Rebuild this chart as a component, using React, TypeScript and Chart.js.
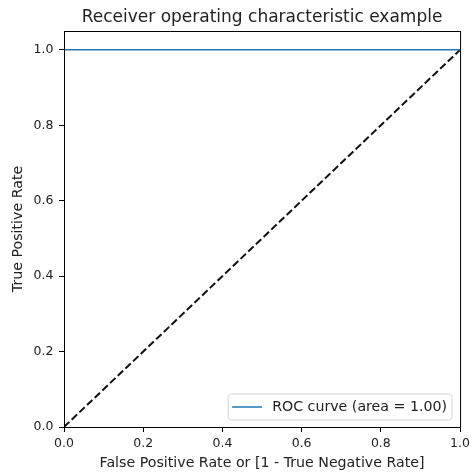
import React, { useEffect, useRef } from "react";
import { Chart, registerables } from "chart.js";

Chart.register(...registerables);

const rocFpr = [0, 0, 1];
const rocTpr = [0, 1, 1];
const diagX = [0, 1];
const diagY = [0, 1];
const tickValues = [0, 0.2, 0.4, 0.6, 0.8, 1.0];
const rocLabel = "ROC curve (area = 1.00)";
const titleText = "Receiver operating characteristic example";
const xTitle = "False Positive Rate or [1 - True Negative Rate]";
const yTitle = "True Positive Rate";

const FONT = "'DejaVu Sans', sans-serif";

const framePlugin = {
  id: "frameAndLegend",
  afterDraw(chart: any) {
    const { ctx, chartArea } = chart;
    const { left, right, top, bottom } = chartArea;
    ctx.save();
    ctx.strokeStyle = "#000";
    ctx.lineWidth = 1;
    ctx.strokeRect(left + 0.5, top + 0.5, right - left, bottom - top);
    ctx.font = `14.2px ${FONT}`;
    const label = chart.data.datasets[0].label;
    const tw = ctx.measureText(label).width;
    const boxW = tw + 49;
    const boxH = 26;
    const bx = right - 8 - boxW;
    const by = bottom - 7 - boxH;
    const r = 3;
    ctx.beginPath();
    ctx.moveTo(bx + r, by);
    ctx.lineTo(bx + boxW - r, by);
    ctx.quadraticCurveTo(bx + boxW, by, bx + boxW, by + r);
    ctx.lineTo(bx + boxW, by + boxH - r);
    ctx.quadraticCurveTo(bx + boxW, by + boxH, bx + boxW - r, by + boxH);
    ctx.lineTo(bx + r, by + boxH);
    ctx.quadraticCurveTo(bx, by + boxH, bx, by + boxH - r);
    ctx.lineTo(bx, by + r);
    ctx.quadraticCurveTo(bx, by, bx + r, by);
    ctx.closePath();
    ctx.fillStyle = "rgba(255,255,255,0.8)";
    ctx.fill();
    ctx.strokeStyle = "#d6d6d6";
    ctx.lineWidth = 1;
    ctx.stroke();
    const cy = by + boxH / 2;
    ctx.beginPath();
    ctx.moveTo(bx + 4, cy);
    ctx.lineTo(bx + 34, cy);
    ctx.strokeStyle = chart.data.datasets[0].borderColor;
    ctx.lineWidth = 1.5;
    ctx.stroke();
    ctx.fillStyle = "#222";
    ctx.textBaseline = "middle";
    ctx.textAlign = "left";
    ctx.fillText(label, bx + 44, cy + 0.5);
    ctx.restore();
  },
};

export default function App() {
  const ref = useRef<HTMLCanvasElement>(null);
  useEffect(() => {
    if (!ref.current) return;
    const chart = new Chart(ref.current, {
      type: "line",
      data: {
        datasets: [
          {
            label: rocLabel,
            data: rocFpr.map((x, i) => ({ x, y: rocTpr[i] })),
            borderColor: "#1f77b4",
            borderWidth: 1.5,
            pointRadius: 0,
            fill: false,
            tension: 0,
          },
          {
            label: "diagonal",
            data: diagX.map((x, i) => ({ x, y: diagY[i] })),
            borderColor: "#111",
            borderWidth: 2,
            borderDash: [7.4, 3.2],
            pointRadius: 0,
            fill: false,
            tension: 0,
          },
        ],
      },
      options: {
        responsive: false,
        animation: false,
        devicePixelRatio: 1,
        layout: { padding: { top: 0, right: 12, left: 0, bottom: 0 } },
        plugins: {
          legend: { display: false },
          tooltip: { enabled: false },
          title: {
            display: true,
            fullSize: false,
            text: titleText,
            color: "#222",
            font: { family: FONT, size: 17, weight: "normal" },
            padding: { top: 7.3, bottom: 3.3 },
          },
        },
        scales: {
          x: {
            type: "linear",
            min: 0,
            max: 1,
            afterBuildTicks: (s: any) => {
              s.ticks = tickValues.map((v) => ({ value: v }));
            },
            afterFit: (s: any) => {
              s.height = 48;
            },
            grid: {
              drawOnChartArea: false,
              drawTicks: true,
              tickLength: 5,
              color: "#000",
              tickWidth: 1,
            },
            border: { display: false },
            ticks: {
              padding: 4,
              color: "#222",
              font: { family: FONT, size: 12.5 },
              callback: (v: any) => Number(v).toFixed(1),
              maxRotation: 0,
            },
            title: {
              display: true,
              text: xTitle,
              color: "#222",
              font: { family: FONT, size: 14.2 },
              padding: { top: 0, bottom: 3.5 },
            },
          },
          y: {
            type: "linear",
            min: 0,
            max: 1.05,
            afterBuildTicks: (s: any) => {
              s.ticks = tickValues.map((v) => ({ value: v }));
            },
            afterFit: (s: any) => {
              s.width = 64;
            },
            grid: {
              drawOnChartArea: false,
              drawTicks: true,
              tickLength: 5,
              color: "#000",
              tickWidth: 1,
            },
            border: { display: false },
            ticks: {
              padding: 5.5,
              color: "#222",
              font: { family: FONT, size: 12.5 },
              callback: (v: any) => Number(v).toFixed(1),
            },
            title: {
              display: true,
              text: yTitle,
              color: "#222",
              font: { family: FONT, size: 14.2 },
              padding: { top: 10, bottom: 0 },
            },
          },
        },
      } as any,
      plugins: [framePlugin],
    });
    return () => chart.destroy();
  }, []);
  return (
    <div style={{ position: "fixed", left: 0, top: 0, width: 474, height: 475 }}>
      <canvas ref={ref} width={474} height={475} style={{ display: "block" }} />
    </div>
  );
}
